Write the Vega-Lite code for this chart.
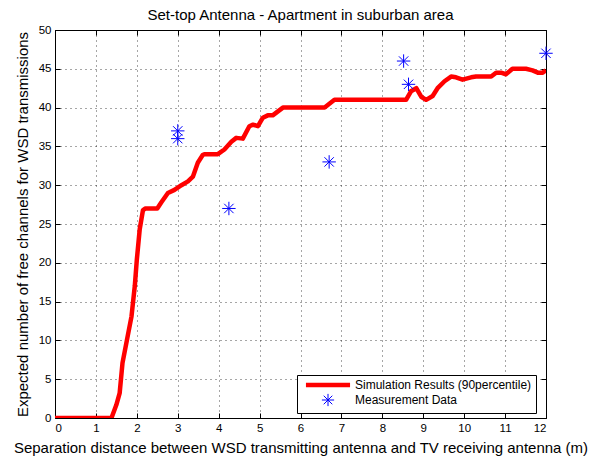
{
  "$schema": "https://vega.github.io/schema/vega-lite/v6.json",
  "width": 491,
  "height": 388,
  "autosize": "none",
  "padding": {"left": 55, "top": 30, "right": 57, "bottom": 41},
  "background": "white",
  "config": {
    "font": "Liberation Sans",
    "view": {"stroke": "black", "strokeWidth": 1},
    "axis": {
      "domain": false,
      "tickColor": "black",
      "tickSize": -5,
      "labelPadding": 9,
      "labelFontSize": 11.5,
      "labelColor": "black",
      "titleFontSize": 15,
      "titleFontWeight": "normal",
      "titleColor": "black",
      "gridColor": "black",
      "gridOpacity": 0.7,
      "gridDash": [1, 4]
    }
  },
  "title": {
    "text": "Set-top Antenna - Apartment in suburban area",
    "fontSize": 15,
    "fontWeight": "normal",
    "color": "black",
    "offset": 1
  },
  "datasets": {
    "sim": [
      {"x": 0, "y": 0, "series": "Simulation Results (90percentile)"},
      {"x": 1.38, "y": 0, "series": "Simulation Results (90percentile)"},
      {"x": 1.5, "y": 1.7, "series": "Simulation Results (90percentile)"},
      {"x": 1.58, "y": 3.2, "series": "Simulation Results (90percentile)"},
      {"x": 1.65, "y": 7.1, "series": "Simulation Results (90percentile)"},
      {"x": 1.76, "y": 10.1, "series": "Simulation Results (90percentile)"},
      {"x": 1.87, "y": 13.1, "series": "Simulation Results (90percentile)"},
      {"x": 1.95, "y": 17, "series": "Simulation Results (90percentile)"},
      {"x": 2.0, "y": 20.4, "series": "Simulation Results (90percentile)"},
      {"x": 2.07, "y": 24.3, "series": "Simulation Results (90percentile)"},
      {"x": 2.15, "y": 26.8, "series": "Simulation Results (90percentile)"},
      {"x": 2.21, "y": 27, "series": "Simulation Results (90percentile)"},
      {"x": 2.5, "y": 27, "series": "Simulation Results (90percentile)"},
      {"x": 2.6, "y": 27.8, "series": "Simulation Results (90percentile)"},
      {"x": 2.76, "y": 29, "series": "Simulation Results (90percentile)"},
      {"x": 2.92, "y": 29.4, "series": "Simulation Results (90percentile)"},
      {"x": 3.09, "y": 30, "series": "Simulation Results (90percentile)"},
      {"x": 3.25, "y": 30.5, "series": "Simulation Results (90percentile)"},
      {"x": 3.37, "y": 31.1, "series": "Simulation Results (90percentile)"},
      {"x": 3.49, "y": 32.9, "series": "Simulation Results (90percentile)"},
      {"x": 3.61, "y": 33.9, "series": "Simulation Results (90percentile)"},
      {"x": 3.65, "y": 34, "series": "Simulation Results (90percentile)"},
      {"x": 3.98, "y": 34, "series": "Simulation Results (90percentile)"},
      {"x": 4.14, "y": 34.6, "series": "Simulation Results (90percentile)"},
      {"x": 4.31, "y": 35.6, "series": "Simulation Results (90percentile)"},
      {"x": 4.43, "y": 36.1, "series": "Simulation Results (90percentile)"},
      {"x": 4.59, "y": 36, "series": "Simulation Results (90percentile)"},
      {"x": 4.75, "y": 37.6, "series": "Simulation Results (90percentile)"},
      {"x": 4.84, "y": 37.8, "series": "Simulation Results (90percentile)"},
      {"x": 4.96, "y": 37.6, "series": "Simulation Results (90percentile)"},
      {"x": 5.08, "y": 38.7, "series": "Simulation Results (90percentile)"},
      {"x": 5.2, "y": 39, "series": "Simulation Results (90percentile)"},
      {"x": 5.32, "y": 39, "series": "Simulation Results (90percentile)"},
      {"x": 5.57, "y": 40, "series": "Simulation Results (90percentile)"},
      {"x": 6.59, "y": 40, "series": "Simulation Results (90percentile)"},
      {"x": 6.83, "y": 41, "series": "Simulation Results (90percentile)"},
      {"x": 8.58, "y": 41, "series": "Simulation Results (90percentile)"},
      {"x": 8.7, "y": 42.1, "series": "Simulation Results (90percentile)"},
      {"x": 8.83, "y": 42.5, "series": "Simulation Results (90percentile)"},
      {"x": 8.95, "y": 41.4, "series": "Simulation Results (90percentile)"},
      {"x": 9.07, "y": 41, "series": "Simulation Results (90percentile)"},
      {"x": 9.23, "y": 41.5, "series": "Simulation Results (90percentile)"},
      {"x": 9.35, "y": 42.5, "series": "Simulation Results (90percentile)"},
      {"x": 9.52, "y": 43.4, "series": "Simulation Results (90percentile)"},
      {"x": 9.68, "y": 44, "series": "Simulation Results (90percentile)"},
      {"x": 9.8, "y": 43.9, "series": "Simulation Results (90percentile)"},
      {"x": 9.96, "y": 43.6, "series": "Simulation Results (90percentile)"},
      {"x": 10.17, "y": 43.9, "series": "Simulation Results (90percentile)"},
      {"x": 10.29, "y": 44, "series": "Simulation Results (90percentile)"},
      {"x": 10.66, "y": 44, "series": "Simulation Results (90percentile)"},
      {"x": 10.78, "y": 44.5, "series": "Simulation Results (90percentile)"},
      {"x": 10.9, "y": 44.5, "series": "Simulation Results (90percentile)"},
      {"x": 11.02, "y": 44.3, "series": "Simulation Results (90percentile)"},
      {"x": 11.18, "y": 45, "series": "Simulation Results (90percentile)"},
      {"x": 11.51, "y": 45, "series": "Simulation Results (90percentile)"},
      {"x": 11.67, "y": 44.8, "series": "Simulation Results (90percentile)"},
      {"x": 11.8, "y": 44.5, "series": "Simulation Results (90percentile)"},
      {"x": 11.92, "y": 44.5, "series": "Simulation Results (90percentile)"},
      {"x": 12, "y": 44.8, "series": "Simulation Results (90percentile)"}
    ],
    "meas": [
      {"x": 3, "y": 37, "series": "Measurement Data"},
      {"x": 3, "y": 36, "series": "Measurement Data"},
      {"x": 4.25, "y": 27, "series": "Measurement Data"},
      {"x": 6.7, "y": 33, "series": "Measurement Data"},
      {"x": 8.52, "y": 46, "series": "Measurement Data"},
      {"x": 8.64, "y": 43, "series": "Measurement Data"},
      {"x": 12, "y": 47, "series": "Measurement Data"}
    ]
  },
  "resolve": {"axis": {"x": "independent", "y": "independent"}},
  "layer": [
    {
      "data": {"name": "sim"},
      "mark": {"type": "line", "strokeWidth": 4.5, "strokeJoin": "round", "clip": true},
      "encoding": {
        "x": {
          "field": "x", "type": "quantitative",
          "scale": {"domain": [0, 12], "nice": false, "zero": false},
          "axis": {"values": [0,1,2,3,4,5,6,7,8,9,10,11,12], "grid": true, "orient": "bottom",
                   "title": "Separation distance between WSD transmitting antenna and TV receiving antenna (m)",
                   "titlePadding": 7}
        },
        "y": {
          "field": "y", "type": "quantitative",
          "scale": {"domain": [0, 50], "nice": false},
          "axis": {"values": [0,5,10,15,20,25,30,35,40,45,50], "grid": true, "orient": "left",
                   "title": "Expected number of free channels for WSD transmissions",
                   "titlePadding": 8}
        },
        "color": {
          "field": "series", "type": "nominal",
          "scale": {"domain": ["Simulation Results (90percentile)", "Measurement Data"], "range": ["#ff0000", "#0000ff"]},
          "legend": {
            "title": null,
            "orient": "none",
            "legendX": 242,
            "legendY": 345,
            "strokeColor": "black",
            "fillColor": "white",
            "padding": 4,
            "symbolSize": 150,
            "symbolOffset": 21,
            "labelOffset": 21,
            "labelFontSize": 12,
            "labelLimit": 400,
            "labelColor": "black",
            "rowPadding": -3,
            "encode": {
              "symbols": {
                "update": {
                  "shape": {"signal": "datum.value === 'Measurement Data' ? 'M0,-1L0,1M-1,0L1,0M-0.7,-0.7L0.7,0.7M-0.7,0.7L0.7,-0.7' : 'M-3.6,0L3.6,0'"},
                  "strokeWidth": {"signal": "datum.value === 'Measurement Data' ? 1 : 4.5"},
                  "fill": {"value": "transparent"},
                  "opacity": {"value": 1}
                }
              }
            }
          }
        }
      }
    },
    {
      "data": {"name": "meas"},
      "mark": {"type": "point", "shape": "M0,-1L0,1M-1,0L1,0M-0.7,-0.7L0.7,0.7M-0.7,0.7L0.7,-0.7", "filled": false, "size": 180, "strokeWidth": 1, "opacity": 1, "clip": false},
      "encoding": {
        "x": {"field": "x", "type": "quantitative",
              "axis": {"values": [0,1,2,3,4,5,6,7,8,9,10,11,12], "orient": "top", "labels": false, "grid": false, "title": null}},
        "y": {"field": "y", "type": "quantitative",
              "axis": {"values": [0,5,10,15,20,25,30,35,40,45,50], "orient": "right", "labels": false, "grid": false, "title": null}},
        "color": {"field": "series", "type": "nominal"}
      }
    }
  ]
}
